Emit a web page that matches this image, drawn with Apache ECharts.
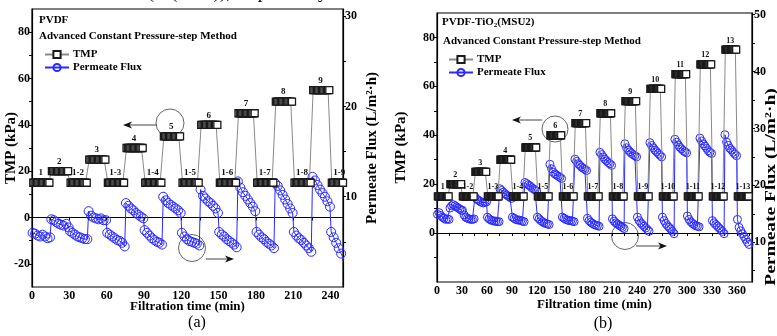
<!DOCTYPE html>
<html>
<head>
<meta charset="utf-8">
<title>TMP and permeate flux</title>
<script src="https://cdn.jsdelivr.net/npm/echarts@6/dist/echarts.min.js"></script>
<style>
  html, body { margin: 0; padding: 0; background: #fff; }
  #main { width: 777px; height: 336px; }
</style>
</head>
<body>
<div id="main"></div>
<script>
// pressure steps: each step lasts 15 min
var stepLength = 15;
var tmpOffsets = [1, 2, 3, 4, 5, 6, 7, 8, 9, 10, 11, 12, 13, 14];
var fluxOffsets = [0.5, 2.5, 4.5, 6.5, 8.5, 10.5, 12.5, 14.5];

// (a) PVDF
var stepNamesA = ['1', '2', '1-2', '3', '1-3', '4', '1-4', '5', '1-5', '6', '1-6', '7', '1-7', '8', '1-8', '9', '1-9'];
var tmpA = [15, 20, 15, 25, 15, 30, 15, 35, 15, 40, 15, 45, 15, 50, 15, 55, 15];
var fluxA = [
  [6.0, 5.9, 5.7, 5.6, 5.8, 5.6, 5.4, 5.5],
  [7.5, 7.4, 7.2, 7.0, 6.9, 6.8, 7.0, 6.6],
  [6.2, 6.0, 5.8, 5.6, 5.5, 5.4, 5.3, 5.3],
  [8.4, 7.9, 7.7, 7.6, 7.5, 7.6, 7.4, 7.4],
  [6.0, 5.8, 5.6, 5.4, 5.2, 5.1, 4.9, 4.5],
  [9.3, 9.0, 8.7, 8.5, 8.2, 8.0, 7.8, 7.6],
  [6.3, 6.0, 5.7, 5.4, 5.2, 5.0, 4.9, 4.7],
  [10.0, 9.6, 9.3, 9.1, 8.9, 8.7, 8.5, 8.2],
  [6.0, 5.6, 5.3, 5.1, 5.0, 4.9, 4.8, 4.6],
  [10.8, 10.1, 9.8, 9.5, 9.3, 9.0, 8.7, 8.2],
  [6.1, 5.8, 5.6, 5.3, 5.1, 4.9, 4.7, 4.4],
  [11.7, 11.0, 10.5, 10.1, 9.7, 9.3, 8.9, 8.4],
  [6.1, 5.8, 5.5, 5.3, 5.0, 4.8, 4.6, 4.3],
  [11.5, 11.2, 10.7, 10.2, 9.7, 9.2, 8.7, 8.2],
  [6.1, 5.7, 5.4, 5.2, 4.9, 4.6, 4.3, 3.9],
  [12.2, 11.8, 11.3, 10.8, 10.4, 10.0, 9.5, 8.9],
  [6.1, 5.5, 4.9, 4.3, 3.7, 3.1, 2.6, 2.2]
];

// (b) PVDF-TiO2(MSU2)
var stepNamesB = ['1', '2', '1-2', '3', '1-3', '4', '1-4', '5', '1-5', '6', '1-6', '7', '1-7',
  '8', '1-8', '9', '1-9', '10', '1-10', '11', '1-11', '12', '1-12', '13', '1-13'];
var tmpB = [15, 20, 15, 25, 15, 30, 15, 35, 15, 40, 15, 45, 15, 49, 15, 54, 15, 59, 15, 65, 15, 69, 15, 75, 15];
var fluxB = [
  [14.9, 15.2, 14.7, 14.4, 14.2, 14.0, 14.1, 14.0],
  [16.0, 16.4, 16.6, 16.4, 16.2, 16.0, 15.8, 15.6],
  [15.6, 14.8, 14.4, 14.2, 14.1, 14.0, 14.0, 14.1],
  [18.0, 17.6, 17.4, 17.2, 17.0, 16.9, 17.0, 17.1],
  [14.4, 14.1, 13.9, 13.8, 13.7, 13.7, 13.6, 13.6],
  [19.4, 19.1, 18.8, 18.5, 18.3, 18.1, 17.9, 17.7],
  [14.4, 14.2, 14.0, 13.9, 13.9, 13.8, 13.7, 13.6],
  [20.5, 20.3, 20.1, 19.9, 19.6, 19.4, 19.2, 19.0],
  [14.4, 14.1, 13.8, 13.6, 13.4, 13.3, 13.2, 13.1],
  [23.7, 22.9, 22.3, 22.0, 21.8, 21.6, 21.4, 21.2],
  [14.4, 14.2, 14.0, 13.9, 13.8, 13.8, 13.7, 13.6],
  [24.6, 24.2, 23.8, 23.5, 23.2, 23.0, 22.8, 22.6],
  [14.2, 13.8, 13.5, 13.3, 13.1, 13.0, 12.9, 12.8],
  [25.8, 25.4, 25.0, 24.6, 24.3, 24.0, 23.8, 23.5],
  [14.1, 13.7, 13.4, 13.2, 13.0, 12.8, 12.6, 12.4],
  [27.3, 26.6, 26.2, 25.9, 25.6, 25.4, 25.2, 25.0],
  [14.4, 13.8, 13.4, 13.1, 12.8, 12.5, 12.2, 11.9],
  [27.5, 27.0, 26.6, 26.2, 25.9, 25.6, 25.3, 25.0],
  [14.4, 13.8, 13.3, 12.9, 12.6, 12.3, 11.9, 11.5],
  [28.1, 27.6, 27.1, 26.7, 26.4, 26.1, 25.9, 25.7],
  [14.6, 14.0, 13.6, 13.3, 13.1, 12.9, 12.8, 12.7],
  [28.3, 27.8, 27.3, 26.9, 26.5, 26.1, 25.8, 25.6],
  [13.8, 13.4, 13.1, 12.8, 12.5, 12.2, 11.9, 11.5],
  [28.9, 27.6, 27.0, 26.5, 26.2, 25.8, 25.5, 25.2],
  [14.0, 12.6, 12.0, 11.5, 11.0, 10.5, 10.0, 9.6]
];

// axis ticks
var xTicksA = [0, 15, 30, 45, 60, 75, 90, 105, 120, 135, 150, 165, 180, 195, 210, 225, 240];
var xLabelsA = [0, 30, 60, 90, 120, 150, 180, 210, 240];
var xTicksB = [0, 15, 30, 45, 60, 75, 90, 105, 120, 135, 150, 165, 180, 195, 210, 225, 240, 255, 270, 285, 300, 315, 330, 345, 360, 375];
var xLabelsB = [0, 30, 60, 90, 120, 150, 180, 210, 240, 270, 300, 330, 360];
var tmpTicksA = [-20, -10, 0, 10, 20, 30, 40, 50, 60, 70, 80];
var tmpLabelsA = [-20, 0, 20, 40, 60, 80];
var fluxTicksA = [5, 10, 15, 20, 25, 30];
var fluxLabelsA = [10, 20, 30];
var tmpTicksB = [-10, 0, 10, 20, 30, 40, 50, 60, 70, 80];
var tmpLabelsB = [0, 20, 40, 60, 80];
var fluxTicksB = [5, 10, 15, 20, 25, 30, 35, 40, 45, 50];
var fluxLabelsB = [10, 20, 30, 40, 50];

var serif = '"Liberation Serif", "DejaVu Serif", serif';
var blue = '#2a2aff';
var boldText = { fontFamily: serif, fontWeight: 'bold', color: '#000' };

function tmpSeries(names, values, xi, yi, size, labelSize) {
  var data = [];
  names.forEach(function (nm, i) {
    tmpOffsets.forEach(function (off, j) {
      var item = { value: [i * stepLength + off, values[i]] };
      if (j === 6) item.label = { show: true, formatter: nm };
      data.push(item);
    });
  });
  return {
    name: 'TMP', type: 'line', xAxisIndex: xi, yAxisIndex: yi, data: data,
    symbol: 'rect', symbolSize: size, showAllSymbol: true, z: 4,
    lineStyle: { color: '#8a8a8a', width: 1 },
    itemStyle: { color: '#fff', borderColor: '#1a1a1a', borderWidth: 1.3 },
    label: { show: false, position: 'top', distance: 1, fontSize: labelSize,
      fontFamily: serif, fontWeight: 'bold', color: '#111' },
    emphasis: { disabled: true }
  };
}

function fluxSeries(segments, xi, yi, size) {
  var data = [];
  segments.forEach(function (seg, i) {
    seg.forEach(function (v, j) {
      data.push([i * stepLength + fluxOffsets[j], v]);
    });
  });
  return {
    name: 'Permeate Flux', type: 'line', xAxisIndex: xi, yAxisIndex: yi, data: data,
    symbol: 'circle', symbolSize: size, showAllSymbol: true, z: 3,
    lineStyle: { color: blue, width: 1 },
    itemStyle: { color: 'rgba(255,255,255,0)', borderColor: blue, borderWidth: 1 },
    emphasis: { disabled: true }
  };
}

function xAxis(gi, max, ticks, labels, gap) {
  return {
    gridIndex: gi, type: 'value', min: 0, max: max,
    axisLine: { lineStyle: { color: '#000', width: 1.2 } },
    axisTick: { customValues: ticks, length: 3, lineStyle: { color: '#000' } },
    axisLabel: Object.assign({ customValues: labels, fontSize: 12, margin: 3 }, boldText),
    splitLine: { show: false },
    name: 'Filtration time (min)', nameLocation: 'middle', nameGap: gap, nameMoveOverlap: false,
    nameTextStyle: Object.assign({ fontSize: 13 }, boldText)
  };
}

function yAxis(gi, pos, min, max, ticks, labels, name, gap, nameSize) {
  return {
    gridIndex: gi, type: 'value', position: pos, min: min, max: max,
    axisLine: { show: true, lineStyle: { color: '#000', width: 1.2 } },
    axisTick: { show: true, customValues: ticks, length: 3, lineStyle: { color: '#000' } },
    axisLabel: Object.assign({ customValues: labels, fontSize: 12, margin: 2 }, boldText),
    splitLine: { show: false },
    name: name, nameLocation: 'middle', nameGap: gap, nameMoveOverlap: false,
    nameTextStyle: Object.assign({ fontSize: nameSize }, boldText)
  };
}

function arrow(x1, x2, y) {
  var dir = x2 > x1 ? 1 : -1;
  return [
    { type: 'line', shape: { x1: x1, y1: y, x2: x2 - dir * 4, y2: y }, style: { stroke: '#444', lineWidth: 1 } },
    { type: 'polygon', shape: { points: [[x2, y], [x2 - dir * 9, y - 3.5], [x2 - dir * 6.5, y], [x2 - dir * 9, y + 3.5]] },
      style: { fill: '#111' } }
  ];
}

function ring(cx, cy, r) {
  return { type: 'circle', shape: { cx: cx, cy: cy, r: r }, style: { fill: null, stroke: '#666', lineWidth: 1 } };
}

function txt(x, y, text, size, extra) {
  return {
    type: 'text', x: x, y: y,
    style: Object.assign({ text: text, font: 'bold ' + size + 'px ' + serif, fill: '#000', verticalAlign: 'middle' }, extra || {})
  };
}

var chart = echarts.init(document.getElementById('main'), null, { renderer: 'canvas' });

var legendBase = {
  orient: 'vertical', itemWidth: 24, itemHeight: 9, itemGap: 2, selectedMode: false,
  data: ['TMP', 'Permeate Flux'],
  textStyle: Object.assign({ fontSize: 11, padding: [0, 0, 0, -1] }, boldText)
};

// (b) right axis title sits lower than the axis middle and is drawn stretched
var fluxTitleB = txt(771, 187, 'Permeate Flux (L/m\u00b2\u00b7h)', 15, { align: 'center' });
fluxTitleB.rotation = Math.PI / 2;
fluxTitleB.scaleX = 1.3;

var graphics = [
  { type: 'text', x: 30, y: 3, silent: true,
    style: { text: '5.43 and 30.72 (L/(m\u00b2\u00b7h)), respectively.', font: '19px ' + serif, fill: '#000', verticalAlign: 'bottom' } },
  txt(39, 20, 'PVDF', 11),
  txt(39, 36, 'Advanced Constant Pressure-step Method', 11),
  {
    type: 'text', x: 442, y: 22,
    style: {
      text: '{a|PVDF-TiO}{s|2}{a|(MSU2)}', verticalAlign: 'middle',
      rich: {
        a: { font: 'bold 11px ' + serif, fill: '#000' },
        s: { font: 'bold 7px ' + serif, fill: '#000', padding: [6, 0, 0, 0] }
      }
    }
  },
  txt(443, 41, 'Advanced Constant Pressure-step Method', 11),
  fluxTitleB,
  { type: 'text', x: 197, y: 323, style: { text: '(a)', font: '16px ' + serif, fill: '#000', align: 'center', verticalAlign: 'middle' } },
  { type: 'text', x: 603, y: 324, style: { text: '(b)', font: '16px ' + serif, fill: '#000', align: 'center', verticalAlign: 'middle' } },
  ring(170, 123, 14),
  ring(192, 248, 13.5),
  ring(555, 129, 13),
  ring(625, 236, 13.5)
].concat(arrow(157, 123, 125), arrow(206, 234, 259), arrow(542, 512, 120), arrow(636, 667, 246));

var option = {
  animation: false,
  backgroundColor: '#fff',
  grid: [
    { left: 32, top: 9, width: 311, height: 278, show: true, borderColor: '#000', borderWidth: 1.2, backgroundColor: 'transparent' },
    { left: 437, top: 13, width: 315, height: 269, show: true, borderColor: '#000', borderWidth: 1.2, backgroundColor: 'transparent' }
  ],
  legend: [
    Object.assign({ left: 39, top: 44 }, legendBase),
    Object.assign({ left: 443, top: 49 }, legendBase)
  ],
  xAxis: [
    xAxis(0, 250, xTicksA, xLabelsA, 13),
    xAxis(1, 378, xTicksB, xLabelsB, 16)
  ],
  yAxis: [
    yAxis(0, 'left', -30, 90, tmpTicksA, tmpLabelsA, 'TMP (kPa)', 13, 15),
    yAxis(0, 'right', 0, 30.8, fluxTicksA, fluxLabelsA, 'Permeate Flux (L/m\u00b2\u00b7h)', 22, 15),
    yAxis(1, 'left', -20, 90, tmpTicksB, tmpLabelsB, 'TMP (kPa)', 28, 15),
    yAxis(1, 'right', 3, 50.3, fluxTicksB, fluxLabelsB, '', 20, 15)
  ],
  series: [
    fluxSeries(fluxA, 0, 1, 9),
    tmpSeries(stepNamesA, tmpA, 0, 0, 7, 9),
    fluxSeries(fluxB, 1, 3, 8),
    tmpSeries(stepNamesB, tmpB, 1, 2, 7, 8)
  ],
  graphic: graphics
};

chart.setOption(option);
</script>
</body>
</html>
